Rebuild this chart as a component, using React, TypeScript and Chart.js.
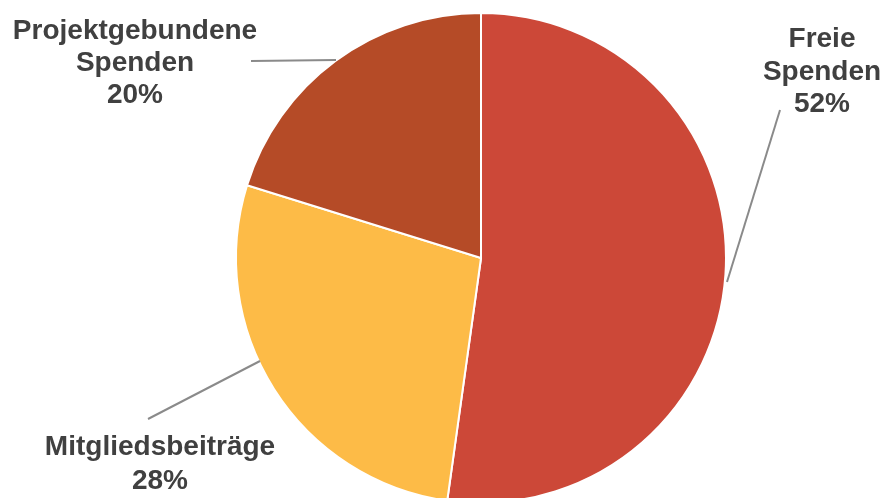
import React, { useEffect, useRef } from "react";
import { Chart, registerables } from "chart.js";

Chart.register(...registerables);

const categories = ["Freie Spenden", "Mitgliedsbeiträge", "Projektgebundene Spenden"];
const shares = [52.2, 27.6, 20.2];
const labelLines = [["Freie", "Spenden"], ["Mitgliedsbeiträge"], ["Projektgebundene", "Spenden"]];
const colors = ["#CC4838", "#FDBB47", "#B54B27"];

// label layout: center x, first baseline, line step, leader from label side -> pie side
const labelLayout = [
  { x: 822, y: 47, step: 32.5, leader: [[780, 110], [727, 282]] },
  { x: 160, y: 455, step: 34, leader: [[148, 419], [260, 361]] },
  { x: 135, y: 39, step: 32, leader: [[251, 61], [336, 60]] },
];

const labelPlugin = {
  id: "pieLabels",
  afterDatasetsDraw(chart: any) {
    const ctx = chart.ctx;
    ctx.save();
    chart.data.datasets[0].data.forEach((v: number, i: number) => {
      const L = labelLayout[i];
      ctx.strokeStyle = "#8A8A8A";
      ctx.lineWidth = 2;
      ctx.beginPath();
      ctx.moveTo(L.leader[0][0], L.leader[0][1]);
      ctx.lineTo(L.leader[1][0], L.leader[1][1]);
      ctx.stroke();
      ctx.fillStyle = "#404040";
      ctx.font = "bold 28px 'Liberation Sans', Arial, sans-serif";
      ctx.textAlign = "center";
      ctx.textBaseline = "alphabetic";
      const lines = [...labelLines[i], Math.round(v) + "%"];
      lines.forEach((t, k) => ctx.fillText(t, L.x, L.y + k * L.step));
    });
    ctx.restore();
  },
};

export default function App() {
  const ref = useRef<HTMLCanvasElement>(null);
  useEffect(() => {
    const chart = new Chart(ref.current!, {
      type: "pie",
      data: {
        labels: categories,
        datasets: [
          {
            data: shares,
            backgroundColor: colors,
            borderColor: "#FFFFFF",
            borderWidth: 2,
            radius: 245,
          } as any,
        ],
      },
      options: {
        responsive: false,
        animation: false,
        layout: { padding: { left: 78, right: 0, top: 13, bottom: 13 } },
        plugins: { legend: { display: false }, tooltip: { enabled: false } },
      },
      plugins: [labelPlugin],
    });
    return () => chart.destroy();
  }, []);
  return (
    <div style={{ position: "fixed", left: 0, top: 0, width: 884, height: 498, overflow: "hidden", background: "#fff" }}>
      <canvas ref={ref} width={884} height={516} style={{ display: "block" }} />
    </div>
  );
}
